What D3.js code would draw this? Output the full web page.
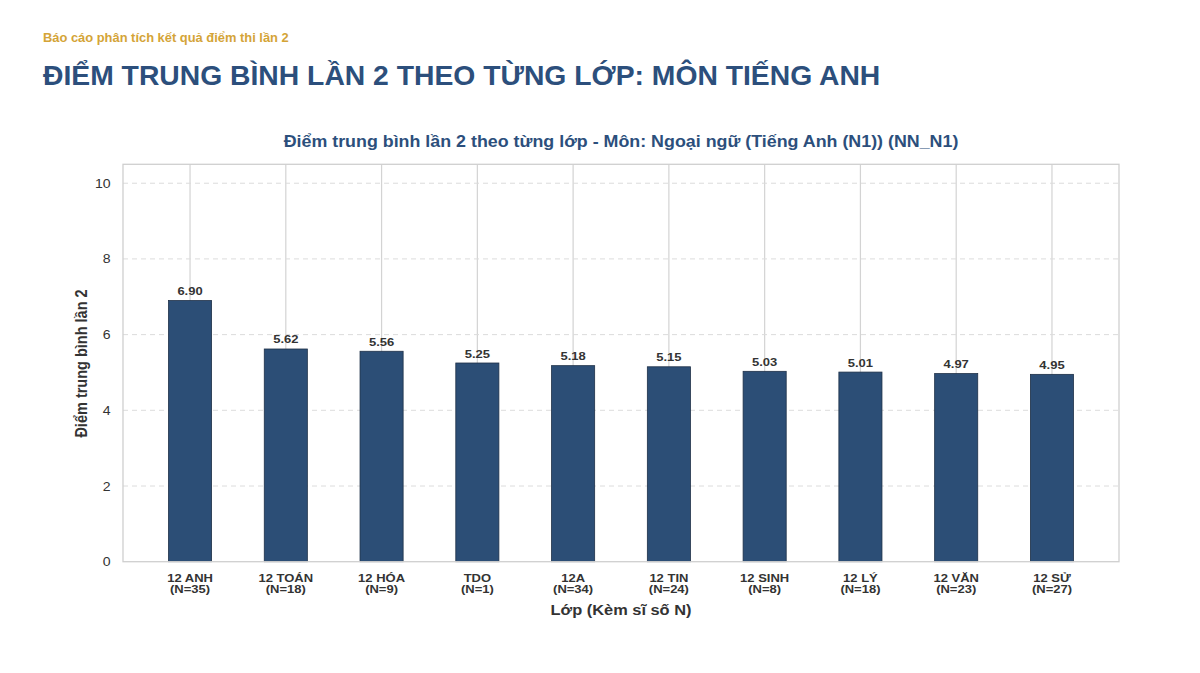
<!DOCTYPE html>
<html><head><meta charset="utf-8">
<script src="https://cdn.jsdelivr.net/npm/d3@7/dist/d3.min.js"></script>
<style>body{margin:0;background:#fff;font-family:"Liberation Sans",Arial,sans-serif}</style>
</head><body><svg id="c" width="1200" height="673"></svg>
<script>
const classes = ["12 ANH","12 TOÁN","12 HÓA","TDO","12A","12 TIN","12 SINH","12 LÝ","12 VĂN","12 SỬ"];
const counts = [35,18,9,1,34,24,8,18,23,27];
const scores = [6.90,5.62,5.56,5.25,5.18,5.15,5.03,5.01,4.97,4.95];
const yTicks = [0,2,4,6,8,10];

const svg = d3.select("#c");
const F = '"Liberation Sans",Arial,sans-serif';
const S = 1.13; // horizontal stretch of chart texts
const L = 123, R = 1119, T = 164.3, B = 561.7;

function txt(xp, yp, str, size, opts = {}) {
  return svg.append("text")
    .attr("transform", `translate(${xp},${yp}) scale(${opts.s ?? S},1)`)
    .attr("text-anchor", opts.anchor || "middle")
    .attr("font-family", F).attr("font-weight", opts.weight || "bold")
    .attr("font-size", size).attr("fill", opts.fill || "#333").text(str);
}

txt(43, 42, "Báo cáo phân tích kết quả điểm thi lần 2", 12.9, {s:1, anchor:"start", fill:"#d4a437"});
txt(43, 85, "ĐIỂM TRUNG BÌNH LẦN 2 THEO TỪNG LỚP: MÔN TIẾNG ANH", 28.3, {s:1, anchor:"start", fill:"#2c4f7c"});

const idx = d3.range(classes.length);
const x = d3.scaleLinear().domain([-0.7, classes.length - 0.3]).range([L, R]);
const y = d3.scaleLinear().domain([0, 10.5]).range([B, T]);
const step = x(1) - x(0);
const bw = step * 0.45;

txt((L+R)/2, 146.7, "Điểm trung bình lần 2 theo từng lớp - Môn: Ngoại ngữ (Tiếng Anh (N1)) (NN_N1)", 15.8, {fill:"#2c4f7c"});

const g = svg.append("g");
g.selectAll(".vg").data(idx).join("line").attr("x1",d=>x(d)).attr("x2",d=>x(d))
  .attr("y1",T).attr("y2",B).attr("stroke","#d3d3d3").attr("stroke-width",1.2);
g.selectAll(".hg").data(yTicks.filter(v=>v>0)).join("line").attr("x1",L).attr("x2",R)
  .attr("y1",d=>y(d)).attr("y2",d=>y(d)).attr("stroke","#dcdcdc").attr("stroke-width",1).attr("stroke-dasharray","5,4");

g.selectAll(".bar").data(idx).join("rect").attr("x",d=>x(d)-bw/2).attr("width",bw)
  .attr("y",d=>y(scores[d])).attr("height",d=>B-y(scores[d]))
  .attr("fill","#2c4e76").attr("stroke","#1e3048").attr("stroke-width",0.8);

g.selectAll(".val").data(idx).join("text")
  .attr("transform",d=>`translate(${x(d)},${y(scores[d])-5.5}) scale(${S},1)`)
  .attr("text-anchor","middle").attr("font-family",F).attr("font-weight","bold").attr("font-size",11.5)
  .attr("fill","#333").text(d=>scores[d].toFixed(2));

svg.append("rect").attr("x",L).attr("y",T).attr("width",R-L).attr("height",B-T)
  .attr("fill","none").attr("stroke","#cfcfcf").attr("stroke-width",1.3);

const yAxis = d3.axisLeft(y).tickValues(yTicks).tickSize(0).tickPadding(0).tickFormat(d3.format("d"));
const ya = svg.append("g").attr("transform",`translate(${L-12.3},0)`).call(yAxis);
ya.select(".domain").remove();
ya.selectAll("text").attr("x",0).attr("transform",`scale(${S},1)`)
  .attr("font-family",F).attr("font-size",12.5).attr("fill","#333");

const xl = svg.append("g");
const tx = xl.selectAll("text").data(idx).join("text")
  .attr("transform",d=>`translate(${x(d)},0) scale(${S},1)`).attr("text-anchor","middle")
  .attr("font-family",F).attr("font-weight","bold").attr("font-size",11.5).attr("fill","#333");
tx.append("tspan").attr("x",0).attr("y",581.7).text(d=>classes[d]);
tx.append("tspan").attr("x",0).attr("y",593.5).text(d=>`(N=${counts[d]})`);

txt((L+R)/2, 614.5, "Lớp (Kèm sĩ số N)", 14.5);
svg.append("text").attr("transform",`translate(86.5,${363.5}) rotate(-90) scale(1,${S})`).attr("text-anchor","middle")
  .attr("font-family",F).attr("font-weight","bold").attr("font-size",14.5).attr("fill","#333").text("Điểm trung bình lần 2");
</script></body></html>
